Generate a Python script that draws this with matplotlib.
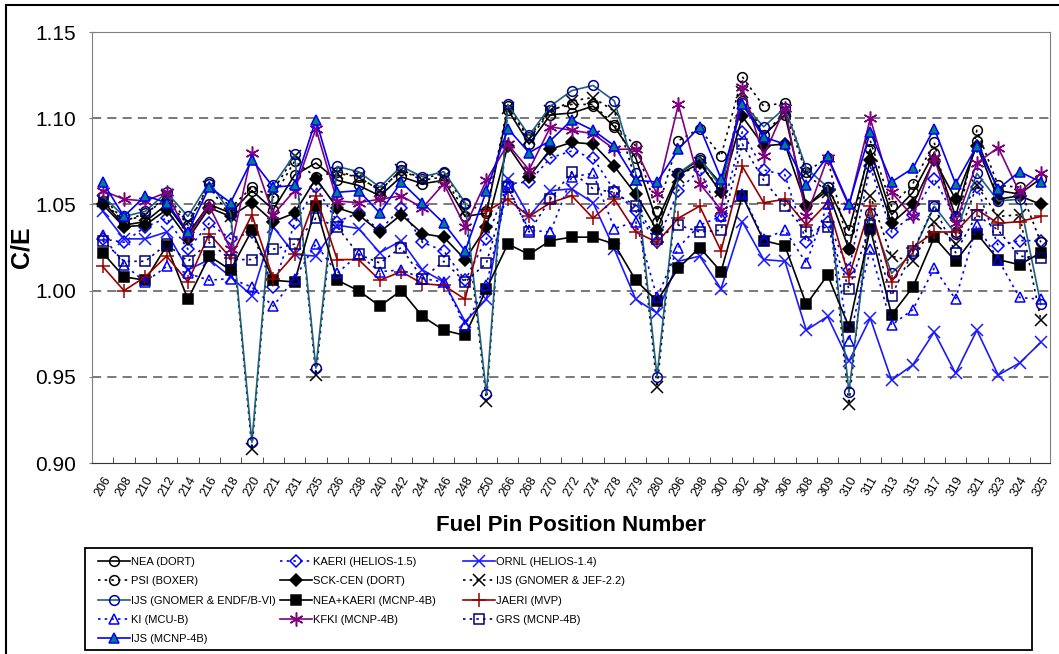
import matplotlib
matplotlib.use('Agg')
import matplotlib.pyplot as plt
from matplotlib.patches import Rectangle
import numpy as np

plt.rcParams['font.family'] = ['Liberation Sans', 'DejaVu Sans']

positions = ['206', '208', '210', '212', '214', '216', '218', '220', '221', '231',
             '235', '236', '238', '240', '242', '244', '246', '248', '250', '266',
             '268', '270', '272', '274', '278', '279', '280', '296', '298', '300',
             '302', '304', '306', '308', '309', '310', '311', '313', '315', '317',
             '319', '321', '323', '324', '325']

nea = [1.052, 1.038, 1.040, 1.050, 1.033, 1.050, 1.045, 1.058, 1.047, 1.067,
       1.074, 1.064, 1.061, 1.055, 1.066, 1.062, 1.064, 1.043, 1.045, 1.105,
       1.085, 1.102, 1.103, 1.107, 1.095, 1.077, 1.040, 1.068, 1.076, 1.062,
       1.110, 1.090, 1.102, 1.049, 1.060, 1.035, 1.082, 1.044, 1.057, 1.080,
       1.043, 1.087, 1.058, 1.056, 1.065]
kaeri = [1.030, 1.028, 1.037, 1.042, 1.024, 1.039, 1.030, 1.034, 1.002, 1.039,
         1.060, 1.040, 1.045, 1.035, 1.048, 1.028, 1.023, 1.006, 1.030, 1.062,
         1.063, 1.077, 1.081, 1.077, 1.058, 1.046, 1.028, 1.058, 1.070, 1.043,
         1.092, 1.070, 1.067, 1.028, 1.040, 1.012, 1.072, 1.034, 1.044, 1.065,
         1.042, 1.060, 1.026, 1.029, 1.029]
ornl = [1.046, 1.030, 1.030, 1.034, 1.012, 1.018, 1.008, 0.997, 1.037, 1.021,
        1.020, 1.038, 1.036, 1.022, 1.029, 1.012, 1.005, 0.982, 0.995, 1.065,
        1.043, 1.058, 1.059, 1.051, 1.024, 0.995, 0.987, 1.017, 1.020, 1.001,
        1.040, 1.018, 1.017, 0.977, 0.985, 0.959, 0.984, 0.948, 0.957, 0.976,
        0.952, 0.977, 0.951, 0.958, 0.970]
psi = [1.055, 1.040, 1.045, 1.053, 1.038, 1.062, 1.048, 1.060, 1.054, 1.075,
       1.066, 1.069, 1.066, 1.058, 1.070, 1.065, 1.068, 1.050, 1.046, 1.107,
       1.089, 1.105, 1.108, 1.108, 1.096, 1.084, 1.046, 1.087, 1.094, 1.078,
       1.124, 1.107, 1.109, 1.069, 1.077, 1.024, 1.087, 1.049, 1.062, 1.086,
       1.034, 1.093, 1.061, 1.060, 1.028]
sck = [1.050, 1.037, 1.038, 1.047, 1.030, 1.048, 1.043, 1.051, 1.040, 1.045,
       1.065, 1.048, 1.044, 1.034, 1.044, 1.033, 1.031, 1.018, 1.037, 1.084,
       1.066, 1.082, 1.086, 1.085, 1.072, 1.056, 1.035, 1.067, 1.074, 1.057,
       1.101, 1.084, 1.085, 1.049, 1.058, 1.024, 1.076, 1.039, 1.050, 1.076,
       1.053, 1.084, 1.053, 1.055, 1.050]
ijs_jef = [1.052, 1.040, 1.044, 1.055, 1.040, 1.060, 1.043, 0.908, 1.058, 1.078,
           0.951, 1.068, 1.066, 1.058, 1.070, 1.064, 1.066, 1.046, 0.936, 1.106,
           1.088, 1.104, 1.110, 1.112, 1.104, 1.064, 0.944, 1.066, 1.074, 1.058,
           1.115, 1.090, 1.104, 1.068, 1.057, 0.934, 1.055, 1.020, 1.017, 1.040,
           1.027, 1.061, 1.043, 1.044, 0.983]
ijs_endf = [1.055, 1.043, 1.046, 1.057, 1.043, 1.063, 1.045, 0.912, 1.061, 1.079,
            0.955, 1.072, 1.069, 1.060, 1.072, 1.066, 1.069, 1.051, 0.940, 1.108,
            1.090, 1.107, 1.116, 1.119, 1.110, 1.068, 0.950, 1.068, 1.077, 1.060,
            1.109, 1.095, 1.106, 1.071, 1.060, 0.941, 1.045, 1.010, 1.022, 1.049,
            1.033, 1.068, 1.052, 1.053, 0.992]
nea_kaeri = [1.022, 1.008, 1.006, 1.026, 0.995, 1.020, 1.012, 1.035, 1.006, 1.005,
             1.049, 1.006, 1.000, 0.991, 1.000, 0.985, 0.977, 0.974, 1.001, 1.027,
             1.021, 1.029, 1.031, 1.031, 1.027, 1.006, 0.994, 1.013, 1.025, 1.011,
             1.055, 1.029, 1.026, 0.992, 1.009, 0.979, 1.036, 0.986, 1.002, 1.031,
             1.017, 1.033, 1.018, 1.015, 1.022]
jaeri = [1.014, 1.000, 1.008, 1.020, 1.005, 1.033, 1.019, 1.044, 1.007, 1.021,
         1.055, 1.018, 1.018, 1.006, 1.011, 1.004, 1.003, 0.995, 1.046, 1.053,
         1.043, 1.051, 1.055, 1.042, 1.053, 1.034, 1.028, 1.042, 1.049, 1.023,
         1.072, 1.051, 1.053, 1.038, 1.051, 1.008, 1.049, 1.005, 1.025, 1.034,
         1.034, 1.047, 1.039, 1.040, 1.043]
ki = [1.032, 1.015, 1.005, 1.014, 1.010, 1.006, 1.007, 1.002, 0.991, 1.007,
      1.027, 1.010, 1.021, 1.011, 1.012, 1.007, 1.005, 0.980, 1.003, 1.060,
      1.035, 1.034, 1.066, 1.068, 1.036, 1.040, 0.996, 1.025, 1.038, 1.043,
      1.056, 1.030, 1.035, 1.016, 1.050, 0.971, 1.024, 0.980, 0.989, 1.013,
      0.995, 1.038, 1.018, 0.996, 0.995]
kfki = [1.058, 1.053, 1.052, 1.057, 1.032, 1.049, 1.024, 1.080, 1.044, 1.058,
        1.094, 1.052, 1.051, 1.053, 1.055, 1.048, 1.062, 1.037, 1.064, 1.085,
        1.070, 1.095, 1.093, 1.091, 1.082, 1.082, 1.056, 1.108, 1.062, 1.047,
        1.118, 1.078, 1.106, 1.043, 1.077, 1.049, 1.100, 1.057, 1.043, 1.077,
        1.039, 1.074, 1.083, 1.057, 1.068]
grs = [1.029, 1.017, 1.017, 1.027, 1.017, 1.028, 1.018, 1.018, 1.024, 1.027,
       1.042, 1.037, 1.021, 1.016, 1.025, 1.007, 1.017, 1.005, 1.016, 1.060,
       1.034, 1.053, 1.069, 1.059, 1.057, 1.049, 1.030, 1.038, 1.034, 1.035,
       1.085, 1.064, 1.049, 1.034, 1.037, 1.001, 1.038, 0.997, 1.023, 1.049,
       1.022, 1.044, 1.035, 1.020, 1.019]
ijs_mcnp = [1.063, 1.043, 1.055, 1.051, 1.034, 1.060, 1.051, 1.076, 1.060, 1.061,
            1.099, 1.057, 1.058, 1.045, 1.063, 1.051, 1.039, 1.023, 1.058, 1.094,
            1.080, 1.087, 1.099, 1.093, 1.084, 1.064, 1.063, 1.082, 1.095, 1.065,
            1.108, 1.089, 1.085, 1.061, 1.078, 1.050, 1.092, 1.063, 1.071, 1.094,
            1.062, 1.084, 1.059, 1.069, 1.063]

dots = (0, (1.5, 2.5))
star = (6, 2, 0)

# (label, values, line colour, line style, marker, face colour, edge colour, marker size)
series = [
    ('NEA (DORT)', nea, 'black', '-', 'o', 'none', 'black', 7),
    ('KAERI (HELIOS-1.5)', kaeri, '#0000ff', dots, 'D', 'none', '#0000ff', 6),
    ('ORNL (HELIOS-1.4)', ornl, '#1a1aff', '-', 'x', '#1a1aff', '#1a1aff', 8),
    ('PSI (BOXER)', psi, 'black', dots, 'o', 'none', 'black', 7),
    ('SCK-CEN (DORT)', sck, 'black', '-', 'D', 'black', 'black', 6),
    ('IJS (GNOMER & JEF-2.2)', ijs_jef, 'black', dots, 'x', 'black', 'black', 8),
    ('IJS (GNOMER & ENDF/B-VI)', ijs_endf, '#1f5f80', '-', 'o', 'none', '#000099', 7),
    ('NEA+KAERI (MCNP-4B)', nea_kaeri, 'black', '-', 's', 'black', 'black', 7),
    ('JAERI (MVP)', jaeri, '#990000', '-', '+', '#990000', '#990000', 10),
    ('KI (MCU-B)', ki, '#0000ff', dots, '^', 'none', '#0000ff', 7),
    ('KFKI (MCNP-4B)', kfki, '#800080', '-', star, '#800080', '#800080', 10),
    ('GRS (MCNP-4B)', grs, '#000080', dots, 's', 'none', '#000080', 7),
    ('IJS (MCNP-4B)', ijs_mcnp, '#0000ff', '-', '^', '#008080', '#0000ff', 7),
]

fig = plt.figure(figsize=(10.59, 6.54), dpi=100)
ax = fig.add_axes([92 / 1059, 1 - 463 / 654, (1050 - 92) / 1059, (463 - 32) / 654])

x = np.arange(len(positions))
handles = {}
for label, vals, col, ls, mk, fc, ec, ms in series:
    h, = ax.plot(x, vals, color=col, linestyle=ls, linewidth=1.2, marker=mk,
                 markerfacecolor=fc, markeredgecolor=ec, markersize=ms,
                 markeredgewidth=1.1, label=label)
    handles[label] = h

ax.set_xlim(-0.45, 44.43)
ax.set_ylim(0.90, 1.15)
ax.set_yticks([0.90, 0.95, 1.00, 1.05, 1.10, 1.15])
ax.set_yticklabels(['0.90', '0.95', '1.00', '1.05', '1.10', '1.15'], fontsize=15)
ax.tick_params(axis='y', direction='inout', length=5, color='#808080', pad=9)

for yv in [0.95, 1.00, 1.05, 1.10]:
    ax.axhline(yv, color='#555555', linestyle=(0, (6, 4)), linewidth=1.1, zorder=0)

ax.set_xticks(x)
ax.set_xticklabels(positions, rotation=60, ha='right', rotation_mode='anchor', fontsize=9)
ax.tick_params(axis='x', length=0, pad=8)
ax.set_xticks(np.arange(-0.5, 44.5, 1.0), minor=True)
ax.tick_params(axis='x', which='minor', direction='in', length=4, color='#333333')

for side in ['top', 'left', 'right']:
    ax.spines[side].set_color('#808080')
ax.spines['bottom'].set_color('#333333')

ax.set_ylabel('C/E', fontsize=18, fontweight='bold', labelpad=1)
ax.set_xlabel('Fuel Pin Position Number', fontsize=16, fontweight='bold', labelpad=12)

# legend: three columns placed separately, read row by row like the original
columns = [
    (98, ['NEA (DORT)', 'PSI (BOXER)', 'IJS (GNOMER & ENDF/B-VI)', 'KI (MCU-B)', 'IJS (MCNP-4B)']),
    (280, ['KAERI (HELIOS-1.5)', 'SCK-CEN (DORT)', 'NEA+KAERI (MCNP-4B)', 'KFKI (MCNP-4B)']),
    (463, ['ORNL (HELIOS-1.4)', 'IJS (GNOMER & JEF-2.2)', 'JAERI (MVP)', 'GRS (MCNP-4B)']),
]
for xpix, labels in columns:
    fig.legend([handles[k] for k in labels], labels, loc='upper left',
               bbox_to_anchor=(xpix / 1059, 1 - 557 / 654), ncol=1, frameon=False,
               fontsize=8, handlelength=2.9, handletextpad=0.1, labelspacing=0.84,
               borderpad=0, borderaxespad=0)

fig.add_artist(Rectangle((85 / 1059, 1 - 650 / 654), (1032 - 85) / 1059, (650 - 548) / 654,
                         transform=fig.transFigure, fill=False, edgecolor='black', linewidth=1.3))
fig.add_artist(Rectangle((6 / 1059, -0.05), 1.2, 1.05 - 5 / 654,
                         transform=fig.transFigure, fill=False, edgecolor='black', linewidth=1.5))

fig.savefig('out.png', dpi=100)
